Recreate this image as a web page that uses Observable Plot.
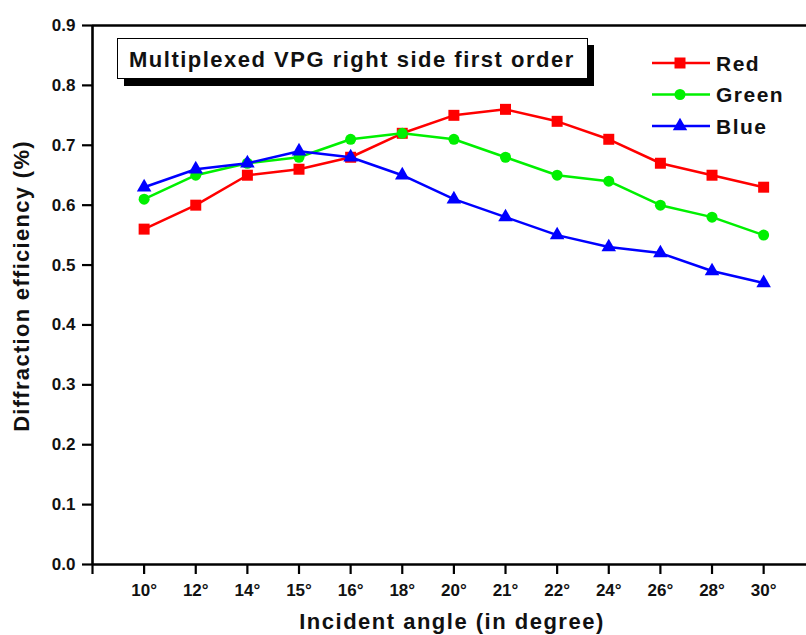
<!DOCTYPE html>
<html>
<head>
<meta charset="utf-8">
<script src="https://cdn.jsdelivr.net/npm/d3@7"></script>
<script src="https://cdn.jsdelivr.net/npm/@observablehq/plot@0.6"></script>
<style>
  html, body { margin: 0; padding: 0; background: #fff; }
  #chart { position: relative; width: 806px; height: 635px; overflow: hidden; }
  svg text { font-family: "Liberation Sans", Arial, sans-serif; }
</style>
</head>
<body>
<div id="chart"></div>
<script>
const angles = ["10°", "12°", "14°", "15°", "16°", "18°", "20°", "21°", "22°", "24°", "26°", "28°", "30°"];
const red   = [0.56, 0.60, 0.65, 0.66, 0.68, 0.72, 0.75, 0.76, 0.74, 0.71, 0.67, 0.65, 0.63];
const green = [0.61, 0.65, 0.67, 0.68, 0.71, 0.72, 0.71, 0.68, 0.65, 0.64, 0.60, 0.58, 0.55];
const blue  = [0.63, 0.66, 0.67, 0.69, 0.68, 0.65, 0.61, 0.58, 0.55, 0.53, 0.52, 0.49, 0.47];
const seriesNames = ["Red", "Green", "Blue"];
const seriesColors = ["#ff0000", "#00f000", "#0000ff"];
const seriesSymbols = ["square", "circle", "triangle"];
const yTicks = [0, 0.1, 0.2, 0.3, 0.4, 0.5, 0.6, 0.7, 0.8, 0.9];
const titleText = "Multiplexed VPG right side first order";
const xLabel = "Incident angle (in degree)";
const yLabel = "Diffraction efficiency (%)";

const seriesValues = [red, green, blue];
const markerR = {square: 6.2, circle: 5.5, triangle: 5.4};

const W = 806, H = 635;
const mL = 92, mT = 25, mB = 71, mR = 0;
const xMax = 13.83;
const xTickIdx = d3.range(0, angles.length + 1);

const seriesMarks = seriesValues.flatMap((vals, s) => {
  const data = vals.map((v, i) => ({i: i + 1, angle: angles[i], value: v, series: seriesNames[s]}));
  return [
    Plot.line(data, {x: "i", y: "value", stroke: seriesColors[s], strokeWidth: 2.5}),
    Plot.dot(data, {x: "i", y: "value", fill: seriesColors[s], stroke: "none", symbol: seriesSymbols[s], r: markerR[seriesSymbols[s]]})
  ];
});

const plot = Plot.plot({
  width: W, height: H,
  marginLeft: mL, marginTop: mT, marginBottom: mB, marginRight: mR,
  style: {fontFamily: "Liberation Sans, Arial, sans-serif", background: "#fff", overflow: "visible"},
  x: {type: "linear", domain: [0, xMax]},
  y: {domain: [0, 0.9]},
  marks: [
    Plot.axisY({ticks: yTicks, tickSize: 10, tickPadding: 7, tickFormat: d3.format(".1f"), label: null,
      fontSize: 17, fontWeight: "bold", strokeWidth: 2.2, stroke: "#000", fill: "#111", style: "letter-spacing:1.5px"}),
    Plot.axisX({ticks: xTickIdx, tickSize: 10, tickPadding: 9, tickFormat: i => i === 0 ? "" : angles[i - 1], label: null,
      fontSize: 17, fontWeight: "bold", strokeWidth: 2.2, stroke: "#000", fill: "#111", style: "letter-spacing:1.5px"}),
    Plot.ruleX([0], {strokeWidth: 2.6, stroke: "#000"}),
    Plot.ruleY([0, 0.9], {strokeWidth: 2.6, stroke: "#000"}),
    ...seriesMarks
  ]
});
document.getElementById("chart").appendChild(plot);

const svg = d3.select(plot);
// Title box with shadow
const tb = svg.append("g");
tb.append("rect").attr("x", 124).attr("y", 45).attr("width", 470).attr("height", 41).attr("fill", "#000");
tb.append("rect").attr("x", 117.5).attr("y", 38.5).attr("width", 470).attr("height", 40).attr("fill", "#fff").attr("stroke", "#000").attr("stroke-width", 1);
tb.append("text").attr("x", 129).attr("y", 67).attr("text-anchor", "start").attr("font-size", 22).attr("font-weight", "bold")
  .attr("fill", "#111").style("letter-spacing", "1.5px").text(titleText);

// Legend
const symbolTypes = {square: [d3.symbolSquare, 121], circle: [d3.symbolCircle, 95], triangle: [d3.symbolTriangle, 90]};
const lg = svg.append("g");
seriesNames.forEach((name, k) => {
  const y = 63 + k * 31.5;
  lg.append("line").attr("x1", 652).attr("x2", 710).attr("y1", y).attr("y2", y)
    .attr("stroke", seriesColors[k]).attr("stroke-width", 2.5);
  const [sym, size] = symbolTypes[seriesSymbols[k]];
  lg.append("path").attr("transform", `translate(680,${y})`)
    .attr("d", d3.symbol(sym, size)())
    .attr("fill", seriesColors[k]);
  lg.append("text").attr("x", 716).attr("y", y + 7.5).attr("text-anchor", "start").attr("font-size", 21).attr("font-weight", "bold")
    .attr("fill", "#111").style("letter-spacing", "1.5px").text(name);
});

// Axis labels
svg.append("text").attr("x", 452).attr("y", 629).attr("text-anchor", "middle").attr("font-size", 22)
  .attr("font-weight", "bold").attr("fill", "#111").style("letter-spacing", "1.5px").text(xLabel);
svg.append("text").attr("transform", "translate(29,286) rotate(-90)").attr("text-anchor", "middle").attr("font-size", 22)
  .attr("font-weight", "bold").attr("fill", "#111").style("letter-spacing", "1.3px").text(yLabel);
</script>
</body>
</html>
